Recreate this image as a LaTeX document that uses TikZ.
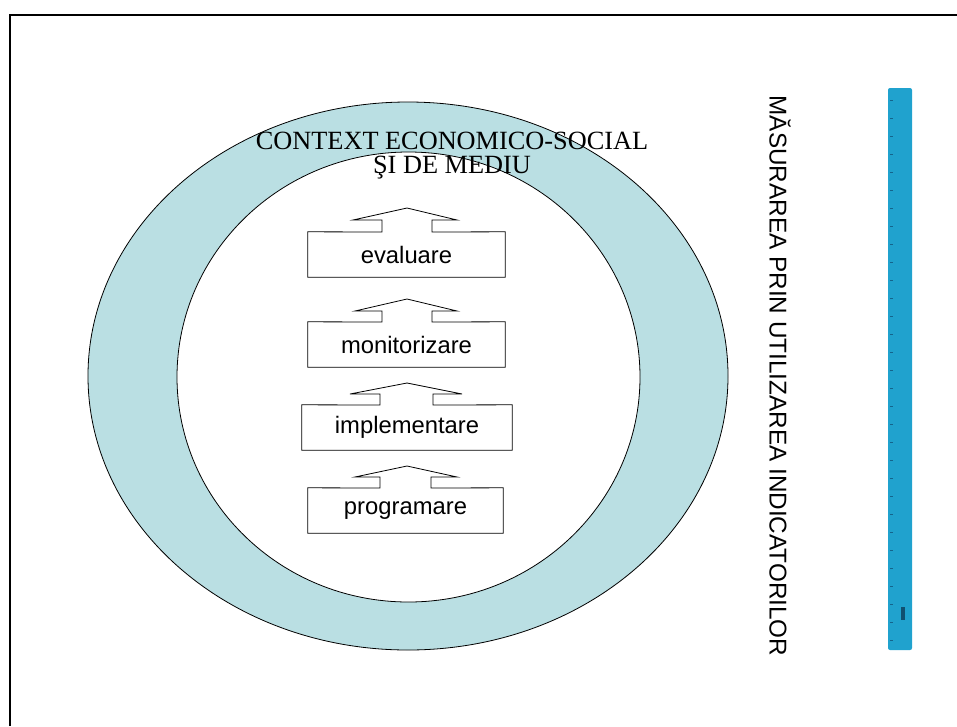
\documentclass[tikz,border=0pt]{standalone}
\usepackage{fontspec}
\setmainfont{Liberation Serif}
\newfontfamily\arialf{Liberation Sans}
\definecolor{ringblue}{RGB}{186,223,227}
\definecolor{rulerblue}{RGB}{32,162,206}
\definecolor{tickblue}{RGB}{20,100,140}
\begin{document}
\begin{tikzpicture}[x=1pt,y=-1pt,
  stepbox/.style={draw=none,minimum height=45pt,inner sep=0pt,font=\arialf\fontsize{23.8}{27}\selectfont},
  outline/.style={draw=black,line width=0.8pt,line join=miter}]
\useasboundingbox (0,0) rectangle (957,726);
% frame
\coordinate (fbl) at (10,726);
\coordinate (ftl) at (10,15);
\coordinate (ftr) at (957,15);
\draw[line width=2.2pt] (fbl) -- (ftl) -- (ftr);
% ring
\fill[ringblue,draw=black,line width=0.8pt] (408,376) ellipse [x radius=320, y radius=274];
\fill[white,draw=black,line width=0.8pt] (408.5,377) ellipse [x radius=231.5, y radius=225];
% title
\node[font=\fontsize{26.3}{24.5}\selectfont,align=center] (ctx) at (452,155.5) {CONTEXT ECONOMICO-SOCIAL\\ŞI DE MEDIU};
% boxes
\node[stepbox,minimum width=197pt] (ev) at (406.5,254.5) {evaluare};
\node[stepbox,minimum width=197pt] (mo) at (406.5,344.5) {monitorizare};
\node[stepbox,minimum width=210pt] (im) at (407,427.5) {implementare};
\node[stepbox,minimum width=195pt] (pr) at (405.5,510.5) {programare};
% outlines with arrows (box top opens into arrow stem)
\draw[outline] (ev.north west) -- (ev.south west) -- (ev.south east) -- (ev.north east) -- (432,232) -- (432,220) -- (457,220) -- (407,208) -- (353,220) -- (382,220) -- (382,232) -- cycle;
\draw[outline] (mo.north west) -- (mo.south west) -- (mo.south east) -- (mo.north east) -- (432,322) -- (432,311) -- (457,311) -- (407,299) -- (355,311) -- (382,311) -- (382,322) -- cycle;
\draw[outline] (im.north west) -- (im.south west) -- (im.south east) -- (im.north east) -- (433,405) -- (433,394) -- (462,394) -- (407,383) -- (350,394) -- (380,394) -- (380,405) -- cycle;
\draw[outline] (pr.north west) -- (pr.south west) -- (pr.south east) -- (pr.north east) -- (431,488) -- (431,477) -- (457,477) -- (407,466) -- (355,477) -- (380,477) -- (380,488) -- cycle;
% vertical label
\node[rotate=-90,font=\arialf\fontsize{24.3}{27}\selectfont,inner sep=0pt] (meas) at (780,376) {MĂSURAREA PRIN UTILIZAREA INDICATORILOR};
% ruler
\fill[rulerblue,rounded corners=2pt] (888,88) rectangle (912,650);
\foreach \yy in {100,118,...,640}{\draw[tickblue,line width=0.6pt] (890,\yy) -- (893,\yy);}
\fill[tickblue!80!black] (901,607) rectangle (905,620);
\end{tikzpicture}
\end{document}
